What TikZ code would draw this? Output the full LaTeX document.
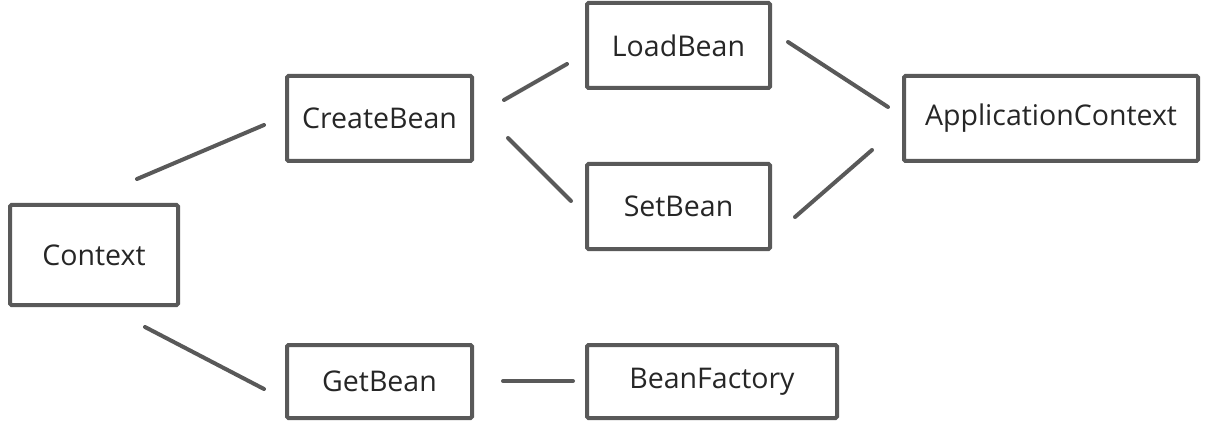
\documentclass[tikz,border=0pt]{standalone}
\usepackage{fontspec}
\setmainfont{Open Sans}
\begin{document}
\begin{tikzpicture}[x=1pt,y=-1pt,
  box/.style={draw=linegray, line width=4pt, rounded corners=1.5pt, fill=white,
    inner sep=0pt, text=black!85, font=\fontsize{28.5}{32}\selectfont},
  link/.style={draw=linegray, line width=4pt, line cap=round}]
\definecolor{linegray}{HTML}{595959}
\useasboundingbox (0,0) rectangle (1207,422);
\node[box, minimum width=168pt, minimum height=100pt] (ctx) at (94,255) {Context};
\node[box, minimum width=185pt, minimum height=85pt] (create) at (379.5,118.5) {CreateBean};
\node[box, minimum width=183pt, minimum height=85pt] (load) at (678.5,45.5) {LoadBean};
\node[box, minimum width=183pt, minimum height=85pt] (set) at (678.5,206.5) {SetBean};
\node[box, minimum width=294pt, minimum height=85pt] (app) at (1051,118.5) {ApplicationContext};
\node[box, minimum width=185pt, minimum height=73pt] (get) at (379.5,381.5) {GetBean};
\node[box, minimum width=250pt, minimum height=73pt] (factory) at (712,381.5) {BeanFactory};
\coordinate (c1a) at (137,179); \coordinate (c1b) at (264,125);
\coordinate (c2a) at (145,327); \coordinate (c2b) at (264,389);
\coordinate (c3a) at (504,100); \coordinate (c3b) at (567,64);
\coordinate (c4a) at (508,138); \coordinate (c4b) at (571,201);
\coordinate (c5a) at (788,42); \coordinate (c5b) at (888,107);
\coordinate (c6a) at (795,217); \coordinate (c6b) at (872,150);
\coordinate (c7a) at (503,381); \coordinate (c7b) at (573,381);
\draw[link] (c1a) -- (c1b);
\draw[link] (c2a) -- (c2b);
\draw[link] (c3a) -- (c3b);
\draw[link] (c4a) -- (c4b);
\draw[link] (c5a) -- (c5b);
\draw[link] (c6a) -- (c6b);
\draw[link] (c7a) -- (c7b);
\end{tikzpicture}
\end{document}
